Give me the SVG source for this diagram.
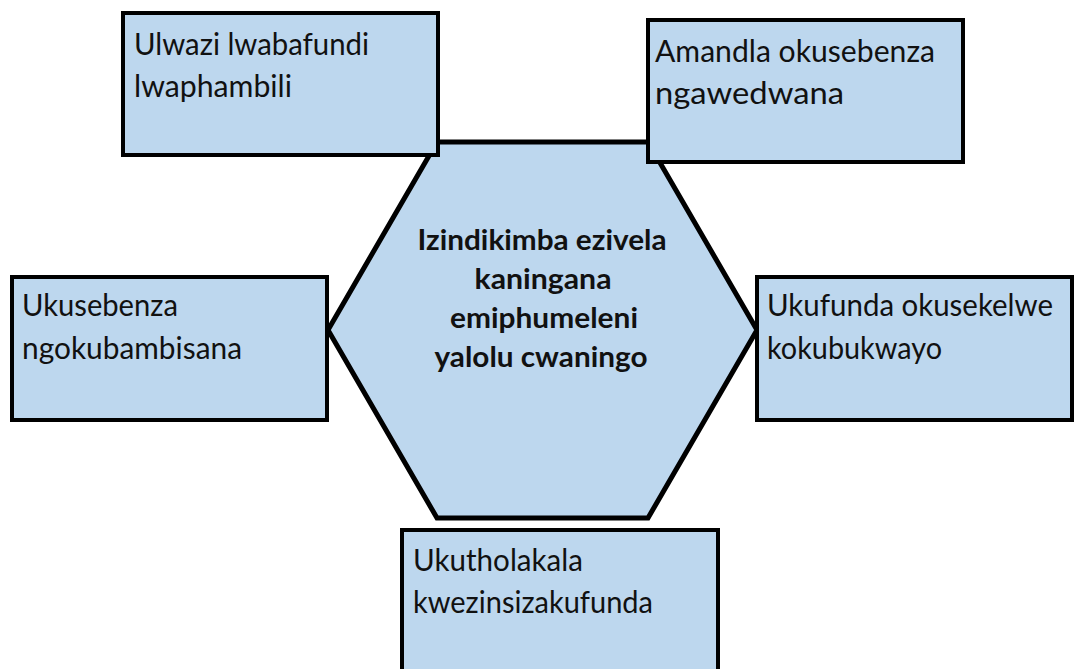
<svg xmlns="http://www.w3.org/2000/svg" width="1075" height="669" viewBox="0 0 1075 669">
<style>
.box{fill:#bdd7ee;stroke:#000;stroke-width:4}
.hex{fill:#bdd7ee;stroke:#000;stroke-width:5;stroke-linejoin:miter}
.t{font-family:Lato,"Open Sans",sans-serif;font-size:31px;fill:#111}
.c{font-family:Lato,"Open Sans",sans-serif;font-size:28px;font-weight:bold;fill:#111;text-anchor:middle}
</style>
<rect width="1075" height="669" fill="#fff"/>
<g id="connectors"/>
<g id="center">
<polygon class="hex" points="437,142 648,142 757,330 648,518 437,518 328,330"/>
<text class="c" x="542" y="250" textLength="249" lengthAdjust="spacingAndGlyphs">Izindikimba ezivela</text>
<text class="c" x="543" y="289" textLength="137" lengthAdjust="spacingAndGlyphs">kaningana</text>
<text class="c" x="544" y="328" textLength="188" lengthAdjust="spacingAndGlyphs">emiphumeleni</text>
<text class="c" x="541" y="367" textLength="213" lengthAdjust="spacingAndGlyphs">yalolu cwaningo</text>
</g>
<g id="node-ulwazi">
<rect class="box" x="123" y="13" width="315" height="142"/>
<text class="t" x="134" y="55" textLength="235" lengthAdjust="spacingAndGlyphs">Ulwazi lwabafundi</text>
<text class="t" x="134" y="97" textLength="158" lengthAdjust="spacingAndGlyphs">lwaphambili</text>
</g>
<g id="node-amandla">
<rect class="box" x="648" y="20" width="315" height="142"/>
<text class="t" x="655" y="62" textLength="280" lengthAdjust="spacingAndGlyphs">Amandla okusebenza</text>
<text class="t" x="655" y="104" textLength="189" lengthAdjust="spacingAndGlyphs">ngawedwana</text>
</g>
<g id="node-ukusebenza">
<rect class="box" x="12" y="277" width="315" height="143"/>
<text class="t" x="22" y="316" textLength="156" lengthAdjust="spacingAndGlyphs">Ukusebenza</text>
<text class="t" x="22" y="359" textLength="220" lengthAdjust="spacingAndGlyphs">ngokubambisana</text>
</g>
<g id="node-ukufunda">
<rect class="box" x="757" y="277" width="315" height="143"/>
<text class="t" x="767" y="316" textLength="286" lengthAdjust="spacingAndGlyphs">Ukufunda okusekelwe</text>
<text class="t" x="767" y="359" textLength="175" lengthAdjust="spacingAndGlyphs">kokubukwayo</text>
</g>
<g id="node-ukutholakala">
<rect class="box" x="402" y="530" width="316" height="145"/>
<text class="t" x="413" y="571" textLength="170" lengthAdjust="spacingAndGlyphs">Ukutholakala</text>
<text class="t" x="413" y="613" textLength="240" lengthAdjust="spacingAndGlyphs">kwezinsizakufunda</text>
</g>
</svg>
